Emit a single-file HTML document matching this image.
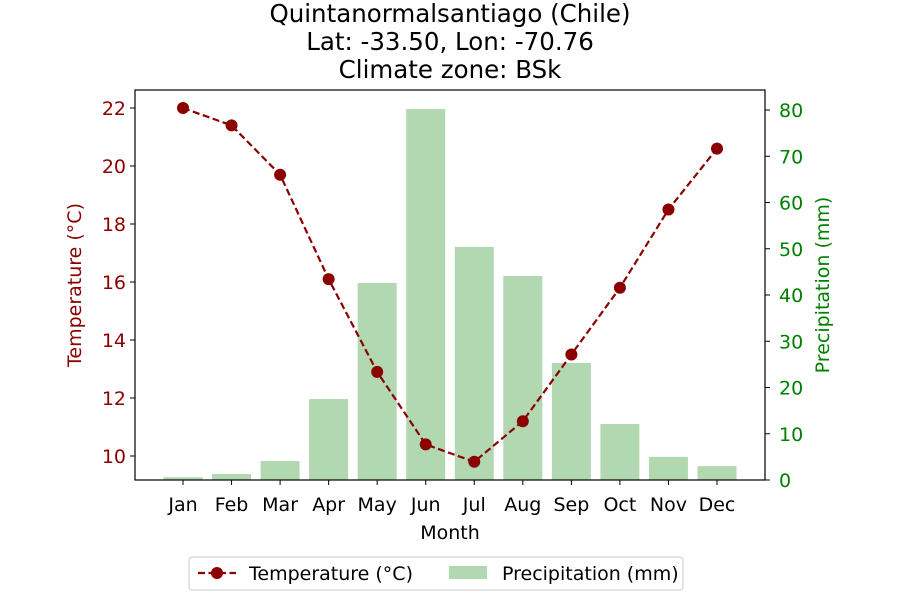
<!DOCTYPE html>
<html><head><meta charset="utf-8"><style>
body{margin:0;background:#fff;font-family:"Liberation Sans","DejaVu Sans",sans-serif;}
svg text{font-family:"DejaVu Sans","Liberation Sans",sans-serif;}
</style></head><body>
<svg id="c" width="900" height="600" xmlns="http://www.w3.org/2000/svg">
<g font-size="24.5" text-anchor="middle" fill="#000">
<text x="450" y="22">Quintanormalsantiago (Chile)</text>
<text x="450" y="50">Lat: -33.50, Lon: -70.76</text>
<text x="450" y="78">Climate zone: BSk</text>
</g>
<g id="bars"></g><g id="line"></g><g id="axes"></g>
</svg>
<script>
const months=["Jan","Feb","Mar","Apr","May","Jun","Jul","Aug","Sep","Oct","Nov","Dec"];
const temps=[22.0,21.4,19.7,16.1,12.9,10.4,9.8,11.2,13.5,15.8,18.5,20.6];
const precip=[0.6,1.3,4.1,17.5,42.6,80.2,50.4,44.1,25.3,12.1,5.0,3.0];
const tempTicks=[10,12,14,16,18,20,22];
const precipTicks=[0,10,20,30,40,50,60,70,80];
const NS="http://www.w3.org/2000/svg";
const L=135,R=765,T=90,B=480;
const FS=19;
const x=i=>183+i*(717-183)/11;
const yT=v=>456-(v-10)*29;
const yP=v=>480-v*370/80;
function mk(tag,attrs,parent,txt){const e=document.createElementNS(NS,tag);for(const k in attrs)e.setAttribute(k,attrs[k]);if(txt!==undefined)e.textContent=txt;parent.appendChild(e);return e;}
const bars=document.getElementById('bars'),line=document.getElementById('line'),axes=document.getElementById('axes');
precip.forEach((p,i)=>{const r=mk('rect',{x:x(i)-19.5,y:yP(p),width:39,height:B-yP(p),fill:'#b2d8b2'},bars);

});
const pl=mk('polyline',{points:temps.map((t,i)=>x(i)+','+yT(t)).join(' '),fill:'none',stroke:'#8b0000','stroke-width':2.2,'stroke-dasharray':'7,3.5'},line);


temps.forEach((t,i)=>{const c=mk('circle',{cx:x(i),cy:yT(t),r:6,fill:'#8b0000'},line);

});
const fr=mk('rect',{x:L,y:T,width:R-L,height:B-T,fill:'none',stroke:'#000','stroke-width':1.2},axes);


tempTicks.forEach(v=>{mk('line',{x1:L-5,x2:L,y1:yT(v),y2:yT(v),stroke:'#000'},axes);
const t=mk('text',{x:L-9,y:yT(v)+7,'text-anchor':'end','font-size':FS,fill:'#8b0000'},axes,v);

});
precipTicks.forEach(v=>{mk('line',{x1:R,x2:R+5,y1:yP(v),y2:yP(v),stroke:'#000'},axes);
const t=mk('text',{x:R+14,y:yP(v)+7,'font-size':FS,fill:'#008000'},axes,v);

});
months.forEach((m,i)=>{mk('line',{x1:x(i),x2:x(i),y1:B,y2:B+5,stroke:'#000'},axes);
const t=mk('text',{x:x(i),y:B+31,'text-anchor':'middle','font-size':FS},axes,m);

});
const xt=mk('text',{x:450,y:539,'text-anchor':'middle','font-size':FS},axes,'Month');


const yl=mk('text',{x:0,y:0,transform:'translate(81,285) rotate(-90)','text-anchor':'middle','font-size':FS,fill:'#8b0000'},axes,'Temperature (°C)');


const yr=mk('text',{x:0,y:0,transform:'translate(829,285) rotate(-90)','text-anchor':'middle','font-size':FS,fill:'#008000'},axes,'Precipitation (mm)');


const lg=mk('g',{},axes);


mk('rect',{x:189,y:557,width:494,height:33,rx:3,fill:'#fff',stroke:'#ccc'},lg);
mk('line',{x1:198,x2:236,y1:573,y2:573,stroke:'#8b0000','stroke-width':2.2,'stroke-dasharray':'7,3.5'},lg);
mk('circle',{cx:217,cy:573,r:6,fill:'#8b0000'},lg);
const l1=mk('text',{x:249,y:580,'font-size':FS},lg,'Temperature (°C)');


mk('rect',{x:449,y:566,width:38,height:13,fill:'#b2d8b2'},lg);
const l2=mk('text',{x:502,y:580,'font-size':FS},lg,'Precipitation (mm)');


</script>
</body></html>
